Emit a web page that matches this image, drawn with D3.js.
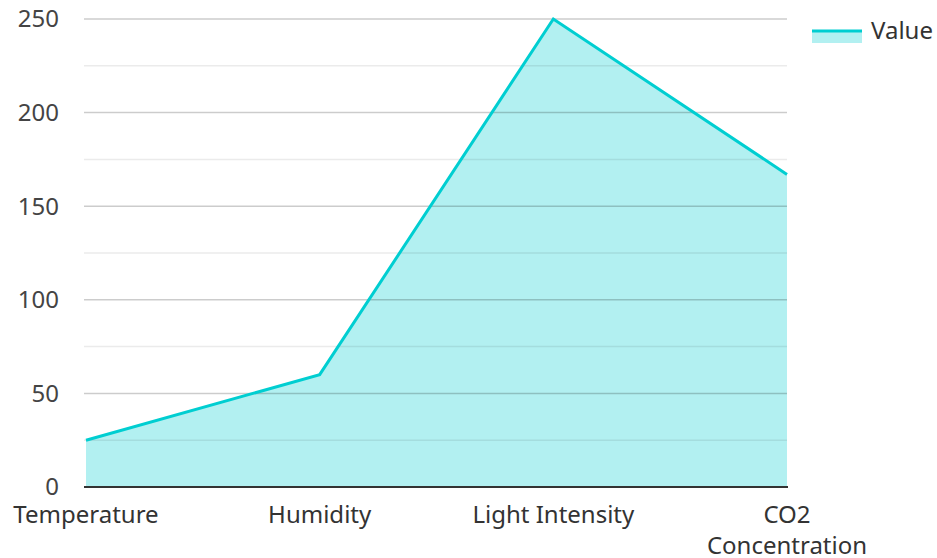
<!DOCTYPE html>
<html><head><meta charset="utf-8">
<script src="https://cdn.jsdelivr.net/npm/d3@7"></script>
<style>body{margin:0;background:#fff;} text{font-family:"Noto Sans",sans-serif;}</style>
</head><body><svg id="c" width="937" height="558"></svg>
<script>
const categories = ["Temperature", "Humidity", "Light Intensity", "CO2 Concentration"];
const values = [25, 60, 250, 167];
const yTicks = [0, 50, 100, 150, 200, 250];
const minorTicks = [25, 75, 125, 175, 225];
const seriesName = "Value";

(function() {
const svg = d3.select("#c");
const mL = 86, mR = 787, mT = 19, mB = 487;
const x = d3.scalePoint().domain(categories).range([mL, mR]);
const y = d3.scaleLinear().domain([0, 250]).range([mB, mT]);
const color = "#00CED1";
const fs = 24;

const data = categories.map((c, i) => ({c, v: values[i]}));

svg.append("path").datum(data)
  .attr("d", d3.area().x(d => x(d.c)).y0(y(0)).y1(d => y(d.v)))
  .attr("fill", color).attr("fill-opacity", 0.3);

svg.append("g").selectAll("line").data(minorTicks).join("line")
  .attr("x1", mL - 2).attr("x2", mR).attr("y1", d => y(d)).attr("y2", d => y(d))
  .attr("stroke", "#000").attr("stroke-opacity", 0.08).attr("stroke-width", 1.5);
svg.append("g").selectAll("line").data(yTicks.filter(d => d > 0)).join("line")
  .attr("x1", mL - 2).attr("x2", mR).attr("y1", d => y(d)).attr("y2", d => y(d))
  .attr("stroke", "#000").attr("stroke-opacity", 0.2).attr("stroke-width", 1.5);

svg.append("path").datum(data)
  .attr("d", d3.line().x(d => x(d.c)).y(d => y(d.v)))
  .attr("fill", "none").attr("stroke", color).attr("stroke-width", 3);

svg.append("line").attr("x1", mL - 2).attr("x2", mR + 1).attr("y1", y(0)).attr("y2", y(0))
  .attr("stroke", "#333").attr("stroke-width", 2);

svg.append("g").selectAll("text").data(yTicks).join("text")
  .attr("x", 59).attr("y", d => y(d)).attr("dy", "0.35em")
  .attr("text-anchor", "end").attr("font-size", fs).attr("fill", "#444")
  .text(d => d);

const xl = svg.append("g").selectAll("text").data(categories).join("text")
  .attr("text-anchor", "middle").attr("font-size", fs).attr("fill", "#333")
  .attr("transform", d => `translate(${x(d)},523)`);
xl.each(function(d) {
  const t = d3.select(this);
  const parts = d === "CO2 Concentration" ? ["CO2", "Concentration"] : [d];
  parts.forEach((p, i) => t.append("tspan").attr("x", 0).attr("dy", i === 0 ? 0 : 31).text(p));
});

const lg = svg.append("g").attr("transform", "translate(812,31)");
lg.append("rect").attr("x", 0).attr("y", 0).attr("width", 50).attr("height", 12)
  .attr("fill", color).attr("fill-opacity", 0.3);
lg.append("line").attr("x1", 0).attr("x2", 50).attr("y1", 0).attr("y2", 0)
  .attr("stroke", color).attr("stroke-width", 3);
lg.append("text").attr("x", 59).attr("y", 0).attr("dy", "0.35em")
  .attr("font-size", fs).attr("fill", "#333").text(seriesName);
})();
</script></body></html>
